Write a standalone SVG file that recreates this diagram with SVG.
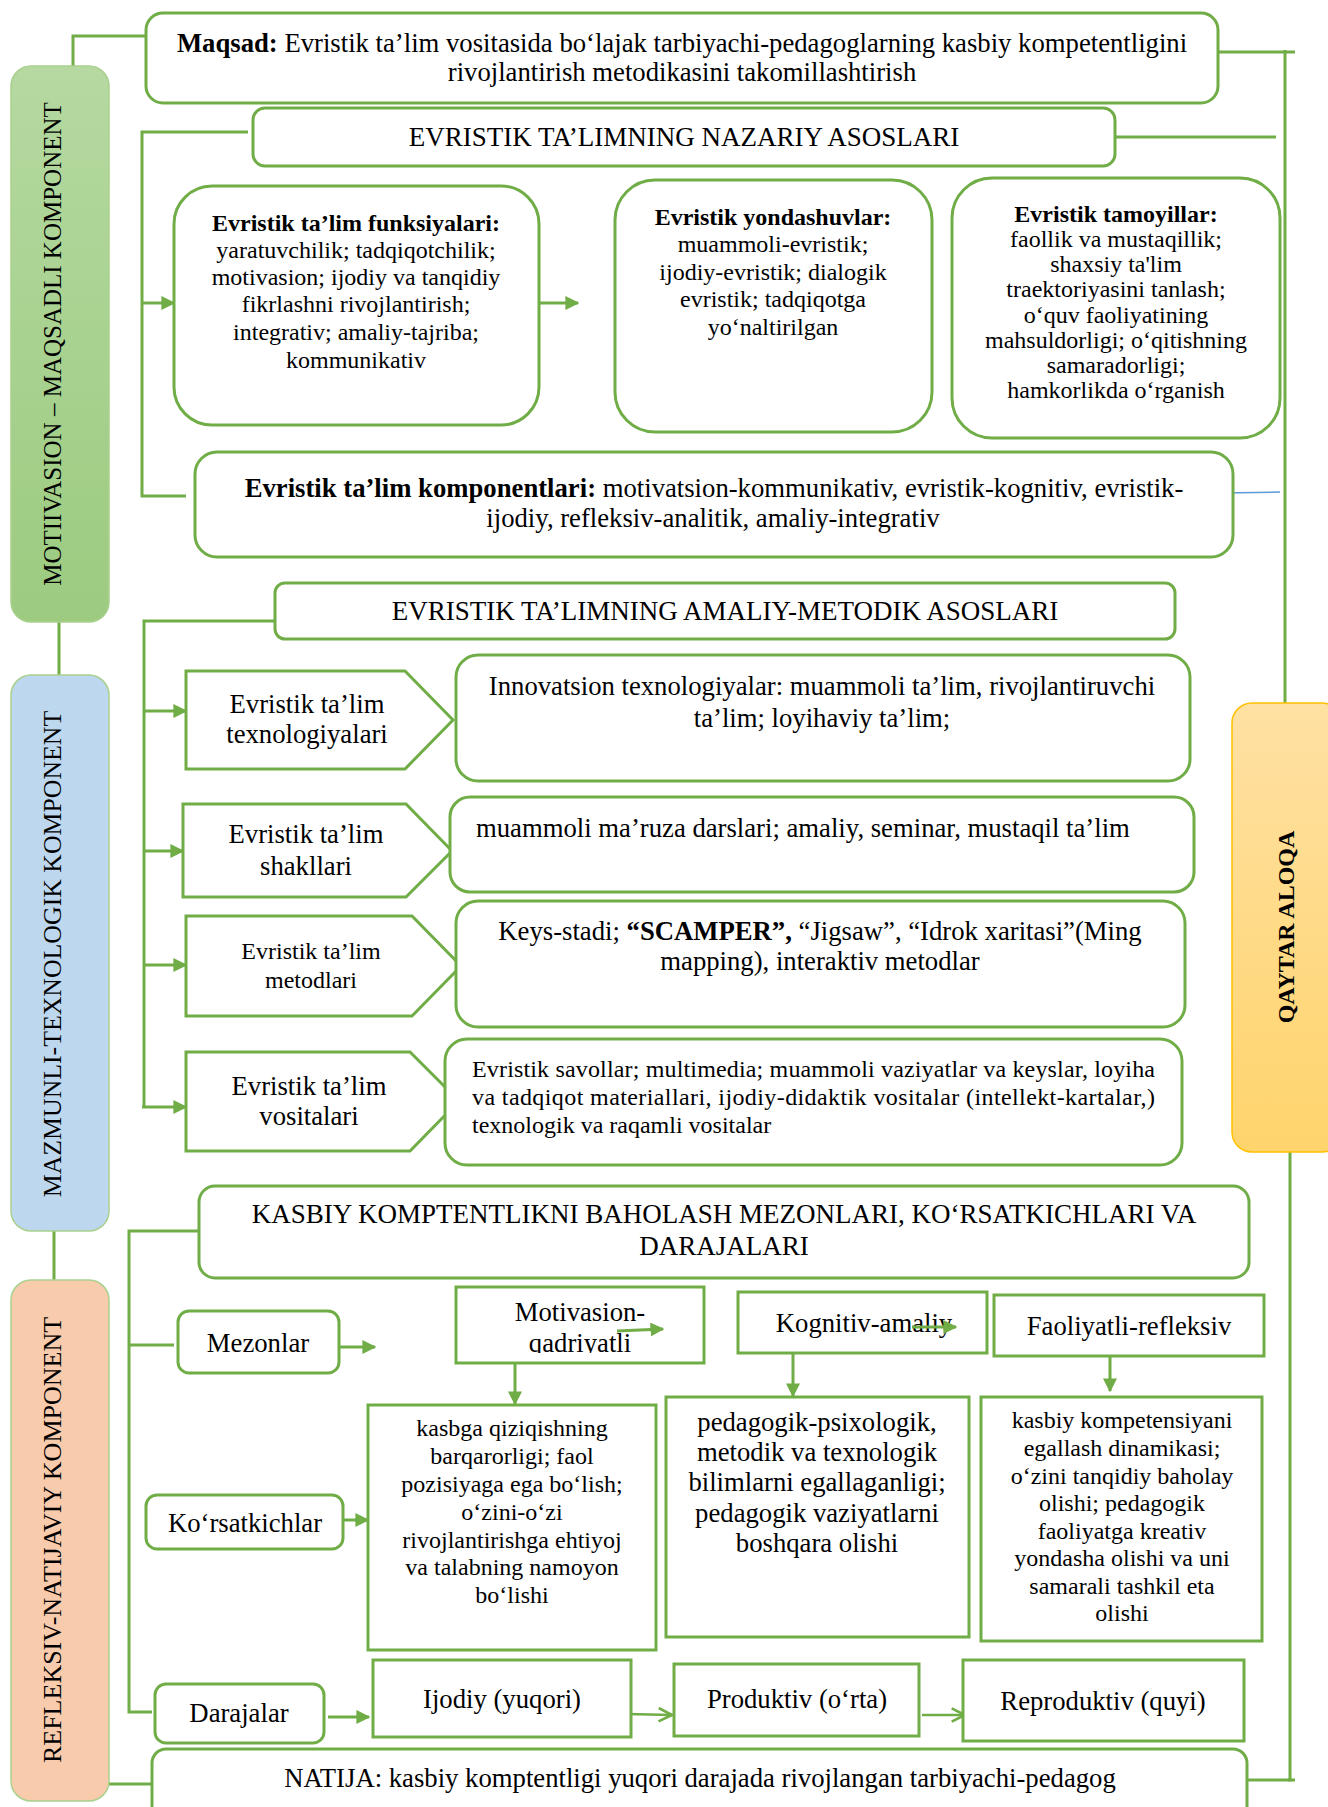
<svg xmlns="http://www.w3.org/2000/svg" width="1328" height="1807" viewBox="0 0 1328 1807">
<style>
text{font-family:"Liberation Serif","Times New Roman",serif;fill:#000}
.f26{font-size:26.7px}
.f27{font-size:27px}
.f24{font-size:24px}
.b{font-weight:bold}
.m{text-anchor:middle}
.box{fill:#fff;stroke:#70AD47;stroke-width:3}
.con{fill:none;stroke:#70AD47;stroke-width:3}
.arr{fill:none;stroke:#70AD47;stroke-width:3;marker-end:url(#ah)}
.oarr{fill:none;stroke:#70AD47;stroke-width:2.5;marker-end:url(#oh)}
.side{stroke:#A9D18E;stroke-width:1.5}
</style>
<defs>
<marker id="ah" viewBox="0 0 10 10" refX="9" refY="5" markerWidth="14" markerHeight="14" markerUnits="userSpaceOnUse" orient="auto"><path d="M0,0 L10,5 L0,10 z" fill="#70AD47"/></marker>
<marker id="oh" viewBox="0 0 12 12" refX="11" refY="6" markerWidth="16" markerHeight="16" markerUnits="userSpaceOnUse" orient="auto"><path d="M1,1 L11,6 L1,11" fill="none" stroke="#70AD47" stroke-width="2"/></marker>
<linearGradient id="gG" x1="0" y1="0" x2="0" y2="1"><stop offset="0" stop-color="#B5D9A1"/><stop offset="1" stop-color="#9CCB80"/></linearGradient>
<linearGradient id="gY" x1="0" y1="0" x2="0" y2="1"><stop offset="0" stop-color="#FFE1A3"/><stop offset="1" stop-color="#FFD46C"/></linearGradient>
<clipPath id="clipMot"><rect x="456" y="1287" width="248" height="66"/></clipPath>
</defs>

<g id="connectors">
<polyline class="con" points="146,36 73,36 73,66"/>
<line class="con" x1="59" y1="622" x2="59" y2="675"/>
<line class="con" x1="54" y1="1231" x2="54" y2="1280"/>
<line class="con" x1="109" y1="1784" x2="152" y2="1784" stroke-width="6"/>
<line class="con" x1="1218" y1="52" x2="1295" y2="52" stroke-width="4"/>
<line class="con" x1="1285" y1="50" x2="1285" y2="703" stroke-width="4"/>
<line class="con" x1="1115" y1="137" x2="1276" y2="137"/>
<line x1="1222" y1="493" x2="1280" y2="492" stroke="#5B9BD5" stroke-width="1.5"/>
<polyline class="con" points="1290,1152 1290,1780 1247,1780" stroke-width="4"/>
<line class="con" x1="1288" y1="1780" x2="1295" y2="1780" stroke-width="4"/>
<polyline class="con" points="248,132 142,132 142,496 186,496"/>
<line class="arr" x1="142" y1="303" x2="174" y2="303"/>
<line class="arr" x1="539" y1="303" x2="578" y2="303"/>
<polyline class="con" points="275,621 144,621 144,1107"/>
<line class="arr" x1="144" y1="711" x2="186" y2="711"/>
<line class="arr" x1="144" y1="851" x2="183" y2="851"/>
<line class="arr" x1="144" y1="965" x2="186" y2="965"/>
<line class="arr" x1="142" y1="1107" x2="186" y2="1107"/>
<polyline class="con" points="199,1231 129,1231 129,1712 152,1712"/>
<line class="con" x1="129" y1="1345" x2="174" y2="1345"/>
<line class="arr" x1="339" y1="1347" x2="375" y2="1347"/>
<line class="arr" x1="343" y1="1520" x2="368" y2="1520"/>
<line class="arr" x1="328" y1="1717" x2="369" y2="1717"/>
<line class="arr" x1="515" y1="1363" x2="515" y2="1404"/>
<line class="arr" x1="793" y1="1353" x2="793" y2="1396"/>
<line class="arr" x1="1110" y1="1356" x2="1110" y2="1391"/>
<line class="oarr" x1="627" y1="1714" x2="672" y2="1715"/>
<line class="oarr" x1="922" y1="1715" x2="965" y2="1715"/>
</g>

<g id="side-motivasion">
<rect x="11" y="66" width="98" height="556" rx="20" fill="url(#gG)" class="side"/>
<text class="m" font-size="25" x="61" y="344" transform="rotate(-90 61 344)">MOTIIVASION – MAQSADLI KOMPONENT</text>
</g>
<g id="side-mazmunli">
<rect x="11" y="675" width="98" height="556" rx="20" fill="#BDD7EE" class="side"/>
<text class="m" font-size="25.8" x="61" y="954" transform="rotate(-90 61 954)">MAZMUNLI-TEXNOLOGIK KOMPONENT</text>
</g>
<g id="side-refleksiv">
<rect x="11" y="1280" width="98" height="521" rx="20" fill="#F8CBAD" class="side"/>
<text class="m" font-size="26" x="61" y="1540" transform="rotate(-90 61 1540)">REFLEKSIV-NATIJAVIY KOMPONENT</text>
</g>
<g id="qaytar-aloqa">
<rect x="1232" y="703" width="110" height="449" rx="20" fill="url(#gY)" stroke="#FFC000" stroke-width="1.5"/>
<text class="m b" font-size="24" x="1294" y="927" transform="rotate(-90 1294 927)">QAYTAR ALOQA</text>
</g>

<g id="maqsad">
<rect class="box" x="146" y="13" width="1072" height="90" rx="17"/>
<text class="f26 m" x="682" y="52"><tspan class="b">Maqsad:</tspan> Evristik ta’lim vositasida bo‘lajak tarbiyachi-pedagoglarning kasbiy kompetentligini</text>
<text class="f26 m" x="682" y="81">rivojlantirish metodikasini takomillashtirish</text>
</g>

<g id="nazariy">
<rect class="box" x="253" y="108" width="862" height="58" rx="12"/>
<text class="f27 m" x="684" y="146">EVRISTIK TA’LIMNING NAZARIY ASOSLARI</text>
</g>

<g id="funksiyalari">
<rect class="box" x="174" y="186" width="365" height="239" rx="38"/>
<text class="f24 m" x="356"><tspan class="b" x="356" y="231">Evristik ta’lim funksiyalari:</tspan><tspan x="356" y="258">yaratuvchilik; tadqiqotchilik;</tspan><tspan x="356" y="285">motivasion; ijodiy va tanqidiy</tspan><tspan x="356" y="312">fikrlashni rivojlantirish;</tspan><tspan x="356" y="340">integrativ; amaliy-tajriba;</tspan><tspan x="356" y="368">kommunikativ</tspan></text>
</g>

<g id="yondashuvlar">
<rect class="box" x="615" y="180" width="317" height="252" rx="40"/>
<text class="f24 m" x="773"><tspan class="b" x="773" y="225">Evristik yondashuvlar:</tspan><tspan x="773" y="252">muammoli-evristik;</tspan><tspan x="773" y="280">ijodiy-evristik; dialogik</tspan><tspan x="773" y="307">evristik; tadqiqotga</tspan><tspan x="773" y="335">yo‘naltirilgan</tspan></text>
</g>

<g id="tamoyillar">
<rect class="box" x="952" y="178" width="328" height="260" rx="40"/>
<text class="f24 m" x="1116"><tspan class="b" x="1116" y="222">Evristik tamoyillar:</tspan><tspan x="1116" y="247">faollik va mustaqillik;</tspan><tspan x="1116" y="272">shaxsiy ta'lim</tspan><tspan x="1116" y="297">traektoriyasini tanlash;</tspan><tspan x="1116" y="323">o‘quv faoliyatining</tspan><tspan x="1116" y="348">mahsuldorligi; o‘qitishning</tspan><tspan x="1116" y="373">samaradorligi;</tspan><tspan x="1116" y="398">hamkorlikda o‘rganish</tspan></text>
</g>

<g id="komponentlari">
<rect class="box" x="195" y="452" width="1038" height="105" rx="22"/>
<text class="f26 m" x="714" y="497"><tspan class="b">Evristik ta’lim komponentlari:</tspan> motivatsion-kommunikativ, evristik-kognitiv, evristik-</text>
<text class="f26 m" x="713" y="527">ijodiy, refleksiv-analitik, amaliy-integrativ</text>
</g>

<g id="amaliy-metodik">
<rect class="box" x="275" y="583" width="900" height="56" rx="10"/>
<text class="f27 m" x="725" y="620">EVRISTIK TA’LIMNING AMALIY-METODIK ASOSLARI</text>
</g>

<g id="texnologiyalari">
<polygon class="box" points="186,671 405,671 453,720 405,769 186,769"/>
<text class="f26 m" x="307"><tspan x="307" y="713">Evristik ta’lim</tspan><tspan x="307" y="743">texnologiyalari</tspan></text>
</g>
<g id="innovatsion">
<rect class="box" x="456" y="655" width="734" height="126" rx="22"/>
<text class="f26 m" x="822"><tspan x="822" y="695">Innovatsion texnologiyalar: muammoli ta’lim, rivojlantiruvchi</tspan><tspan x="822" y="727">ta’lim; loyihaviy ta’lim;</tspan></text>
</g>

<g id="shakllari">
<polygon class="box" points="183,804 406,804 452,851 406,897 183,897"/>
<text class="f26 m" x="306"><tspan x="306" y="843">Evristik ta’lim</tspan><tspan x="306" y="875">shakllari</tspan></text>
</g>
<g id="muammoli-maruza">
<rect class="box" x="450" y="797" width="744" height="95" rx="20"/>
<text class="f26" x="476" y="837">muammoli ma’ruza darslari; amaliy, seminar, mustaqil ta’lim</text>
</g>

<g id="metodlari">
<polygon class="box" points="186,916 412,916 461,966 412,1016 186,1016"/>
<text class="f24 m" x="311"><tspan x="311" y="959">Evristik ta’lim</tspan><tspan x="311" y="988">metodlari</tspan></text>
</g>
<g id="keys-stadi">
<rect class="box" x="456" y="901" width="729" height="126" rx="22"/>
<text class="f26 m" x="820" y="940">Keys-stadi; <tspan class="b">“SCAMPER”,</tspan> “Jigsaw”, “Idrok xaritasi”(Ming</text>
<text class="f26 m" x="820" y="970">mapping), interaktiv metodlar</text>
</g>

<g id="vositalari">
<polygon class="box" points="186,1052 410,1052 459,1101 410,1151 186,1151"/>
<text class="f26 m" x="309"><tspan x="309" y="1095">Evristik ta’lim</tspan><tspan x="309" y="1125">vositalari</tspan></text>
</g>
<g id="savollar">
<rect class="box" x="445" y="1039" width="737" height="126" rx="22"/>
<text class="f24" x="472" y="1077" textLength="683" lengthAdjust="spacing">Evristik savollar; multimedia; muammoli vaziyatlar va keyslar, loyiha</text>
<text class="f24" x="472" y="1105" textLength="683" lengthAdjust="spacing">va tadqiqot materiallari, ijodiy-didaktik vositalar (intellekt-kartalar,)</text>
<text class="f24" x="472" y="1133">texnologik va raqamli vositalar</text>
</g>

<g id="kasbiy-baholash">
<rect class="box" x="199" y="1186" width="1050" height="92" rx="16"/>
<text class="f27 m" x="724" y="1223">KASBIY KOMPTENTLIKNI BAHOLASH MEZONLARI, KO‘RSATKICHLARI VA</text>
<text class="f27 m" x="724" y="1255">DARAJALARI</text>
</g>

<g id="mezonlar">
<rect class="box" x="178" y="1311" width="161" height="62" rx="11"/>
<text class="f26 m" x="258" y="1352">Mezonlar</text>
</g>
<g id="motivasion-qadriyatli">
<rect class="box" x="456" y="1287" width="248" height="76"/>
<text class="f26 m" x="580" y="1321">Motivasion-</text>
<text class="f26 m" x="580" y="1352" clip-path="url(#clipMot)">qadriyatli</text>
<line class="arr" x1="617" y1="1331" x2="663" y2="1329"/>
</g>
<g id="kognitiv-amaliy">
<rect class="box" x="738" y="1292" width="249" height="61"/>
<text class="f26 m" x="864" y="1332">Kognitiv-amaliy</text>
<line class="arr" x1="912" y1="1327" x2="956" y2="1327"/>
</g>
<g id="faoliyatli-refleksiv">
<rect class="box" x="994" y="1295" width="270" height="61"/>
<text class="f26 m" x="1129" y="1335">Faoliyatli-refleksiv</text>
</g>

<g id="korsatkichlar">
<rect class="box" x="146" y="1495" width="197" height="54" rx="11"/>
<text class="f26 m" x="245" y="1532">Ko‘rsatkichlar</text>
</g>
<g id="kasbga-qiziqish">
<rect class="box" x="368" y="1405" width="288" height="245"/>
<text class="f24 m" x="512"><tspan x="512" y="1436">kasbga qiziqishning</tspan><tspan x="512" y="1464">barqarorligi; faol</tspan><tspan x="512" y="1492">pozisiyaga ega bo‘lish;</tspan><tspan x="512" y="1520">o‘zini-o‘zi</tspan><tspan x="512" y="1548">rivojlantirishga ehtiyoj</tspan><tspan x="512" y="1575">va talabning namoyon</tspan><tspan x="512" y="1603">bo‘lishi</tspan></text>
</g>
<g id="pedagogik-psixologik">
<rect class="box" x="666" y="1397" width="303" height="240"/>
<text class="f26 m" x="817"><tspan x="817" y="1431">pedagogik-psixologik,</tspan><tspan x="817" y="1461">metodik va texnologik</tspan><tspan x="817" y="1491">bilimlarni egallaganligi;</tspan><tspan x="817" y="1522">pedagogik vaziyatlarni</tspan><tspan x="817" y="1552">boshqara olishi</tspan></text>
</g>
<g id="kasbiy-kompetensiya">
<rect class="box" x="981" y="1397" width="281" height="244"/>
<text class="f24 m" x="1122"><tspan x="1122" y="1428">kasbiy kompetensiyani</tspan><tspan x="1122" y="1456">egallash dinamikasi;</tspan><tspan x="1122" y="1484">o‘zini tanqidiy baholay</tspan><tspan x="1122" y="1511">olishi; pedagogik</tspan><tspan x="1122" y="1539">faoliyatga kreativ</tspan><tspan x="1122" y="1566">yondasha olishi va uni</tspan><tspan x="1122" y="1594">samarali tashkil eta</tspan><tspan x="1122" y="1621">olishi</tspan></text>
</g>

<g id="darajalar">
<rect class="box" x="155" y="1684" width="169" height="59" rx="11"/>
<text class="f26 m" x="239" y="1722">Darajalar</text>
</g>
<g id="ijodiy">
<rect class="box" x="373" y="1660" width="258" height="77"/>
<text class="f26 m" x="502" y="1708">Ijodiy (yuqori)</text>
</g>
<g id="produktiv">
<rect class="box" x="674" y="1664" width="245" height="72"/>
<text class="f26 m" x="797" y="1708">Produktiv (o‘rta)</text>
</g>
<g id="reproduktiv">
<rect class="box" x="963" y="1660" width="281" height="81"/>
<text class="f26 m" x="1103" y="1710">Reproduktiv (quyi)</text>
</g>

<g id="natija">
<rect class="box" x="152" y="1749" width="1095" height="80" rx="14"/>
<text class="f26 m" x="700" y="1787">NATIJA: kasbiy komptentligi yuqori darajada rivojlangan tarbiyachi-pedagog</text>
</g>
</svg>
